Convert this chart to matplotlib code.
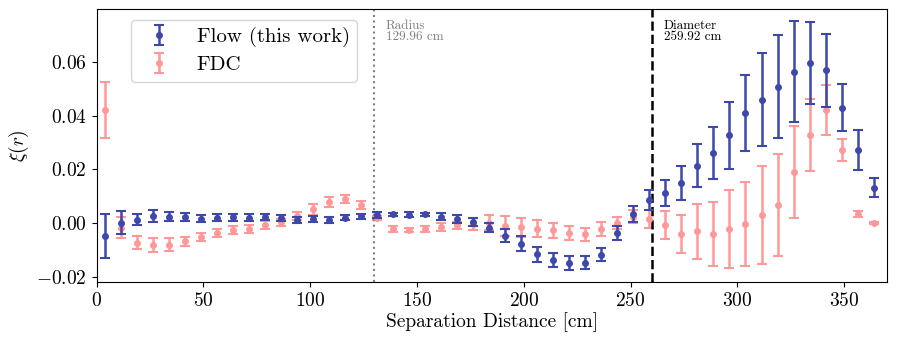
import numpy as np
import matplotlib
matplotlib.use("Agg")
import matplotlib.pyplot as plt

plt.rcParams['font.family'] = ['cmr10', 'DejaVu Serif']
plt.rcParams['mathtext.fontset'] = 'cm'
plt.rcParams['axes.formatter.use_mathtext'] = True

bin_width = 7.5
n_bins = 49
separation = bin_width * (np.arange(n_bins) + 0.5)

flow_xi = [-0.0047, 0.0000, 0.0012, 0.0026, 0.0024, 0.0022, 0.0016, 0.0020, 0.0021, 0.0019,
           0.0021, 0.0017, 0.0011, 0.0014, 0.0011, 0.0020, 0.0025, 0.0030, 0.0032, 0.0031,
           0.0032, 0.0023, 0.0014, 0.0002, -0.0017, -0.0048, -0.0078, -0.0116, -0.0138, -0.0149,
           -0.0148, -0.0118, -0.0039, 0.0032, 0.0085, 0.0113, 0.0150, 0.0214, 0.0261, 0.0327,
           0.0409, 0.0460, 0.0508, 0.0565, 0.0596, 0.0570, 0.0430, 0.0272, 0.0132]
flow_err = [0.0082, 0.0043, 0.0020, 0.0022, 0.0015, 0.0015, 0.0012, 0.0014, 0.0014, 0.0013,
            0.0011, 0.0011, 0.0010, 0.0011, 0.0012, 0.0010, 0.0010, 0.0010, 0.0006, 0.0008,
            0.0006, 0.0013, 0.0014, 0.0015, 0.0015, 0.0024, 0.0028, 0.0028, 0.0025, 0.0025,
            0.0025, 0.0025, 0.0026, 0.0030, 0.0037, 0.0048, 0.0063, 0.0081, 0.0097, 0.0124,
            0.0142, 0.0174, 0.0192, 0.0187, 0.0154, 0.0136, 0.0088, 0.0076, 0.0035]

fdc_xi = [0.0420, -0.0017, -0.0073, -0.0082, -0.0082, -0.0068, -0.0051, -0.0039, -0.0027, -0.0024,
          -0.0007, 0.0002, 0.0026, 0.0051, 0.0078, 0.0088, 0.0066, 0.0018, -0.0023, -0.0027,
          -0.0023, -0.0016, -0.0009, -0.0004, 0.0001, -0.0011, -0.0016, -0.0021, -0.0027, -0.0038,
          -0.0043, -0.0023, 0.0000, 0.0024, 0.0016, -0.0009, -0.0042, -0.0031, -0.0042, -0.0022,
          -0.0004, 0.0029, 0.0066, 0.0190, 0.0328, 0.0420, 0.0272, 0.0034, 0.0000]
fdc_err = [0.0104, 0.0038, 0.0026, 0.0026, 0.0024, 0.0017, 0.0015, 0.0015, 0.0015, 0.0015,
           0.0015, 0.0014, 0.0014, 0.0021, 0.0017, 0.0015, 0.0015, 0.0008, 0.0010, 0.0008,
           0.0010, 0.0014, 0.0014, 0.0022, 0.0028, 0.0036, 0.0036, 0.0033, 0.0028, 0.0026,
           0.0023, 0.0026, 0.0024, 0.0024, 0.0034, 0.0052, 0.0071, 0.0102, 0.0120, 0.0146,
           0.0155, 0.0184, 0.0191, 0.0173, 0.0135, 0.0093, 0.0041, 0.0012, 0.0003]

radius = 129.96
diameter = 259.92

fig = plt.figure(figsize=(8.97, 3.45), dpi=100)
ax = fig.add_axes([0.1076, 0.1826, 0.8813, 0.7914])

blue = '#3d48a8'
pink = '#ff9999'

ax.errorbar(separation, flow_xi, yerr=flow_err, fmt='o', color=blue, ms=4,
            elinewidth=1.8, capsize=3.5, capthick=1.5, label='Flow (this work)', zorder=3)
ax.errorbar(separation, fdc_xi, yerr=fdc_err, fmt='o', color=pink, ms=4,
            elinewidth=1.8, capsize=3.5, capthick=1.5, label='FDC', zorder=2)

ax.axvline(radius, color='grey', ls=':', lw=1.5)
ax.axvline(diameter, color='black', ls='--', lw=1.8)
ax.text(radius + 5.5, 0.96, 'Radius\n129.96 cm', transform=ax.get_xaxis_transform(),
        va='top', ha='left', fontsize=9.5, color='grey', linespacing=0.9)
ax.text(diameter + 5.5, 0.96, 'Diameter\n259.92 cm', transform=ax.get_xaxis_transform(),
        va='top', ha='left', fontsize=9.5, color='black', linespacing=0.9)

ax.set_xlim(0, 370)
ax.set_xlabel('Separation Distance [cm]', fontsize=14, labelpad=2)
ax.set_ylabel(r'$\xi(r)$', fontsize=14)
ax.tick_params(labelsize=14)

ax.legend(loc='upper left', fontsize=15, bbox_to_anchor=(0.0436, 0.96), borderaxespad=0,
          handletextpad=0.8, borderpad=0.35, labelspacing=0.4)

fig.savefig('out.png', dpi=100)
